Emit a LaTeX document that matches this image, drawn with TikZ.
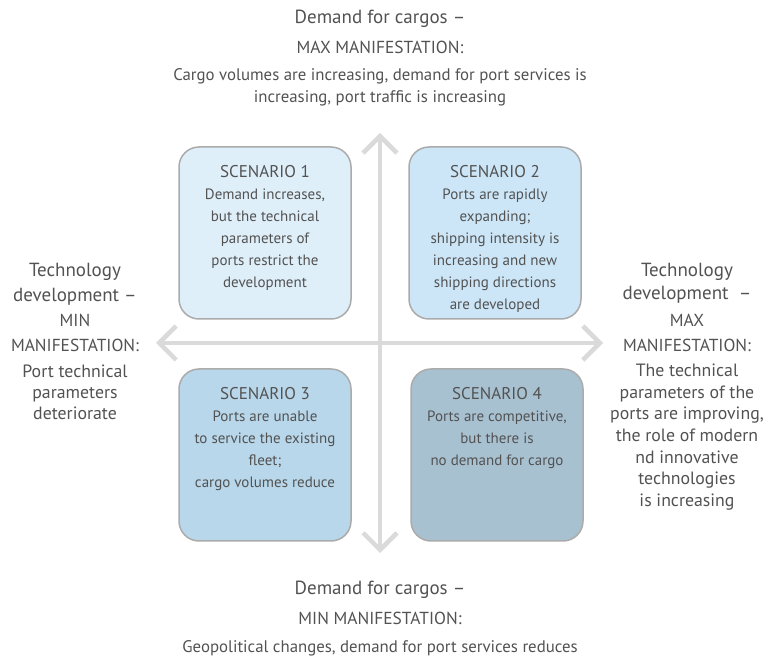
\documentclass[tikz,border=0pt]{standalone}
\usepackage{fontspec}
\setmainfont{PT Sans}
\usetikzlibrary{arrows.meta}
\definecolor{txt}{HTML}{525252}
\definecolor{axis}{HTML}{DADADA}
\definecolor{bord}{HTML}{ABABAB}
\definecolor{fa}{HTML}{DFEFF9}
\definecolor{fb}{HTML}{CCE6F7}
\definecolor{fc}{HTML}{B9D7EA}
\definecolor{fd}{HTML}{A8C1D1}
\newcommand\myhd[1]{{\fontsize{19}{22}\selectfont #1}}
\newcommand\mycp[1]{{\fontsize{17.4}{22}\selectfont #1}}
\newcommand\mysc[1]{{\fontsize{17}{22}\selectfont #1}}
\begin{document}
\begin{tikzpicture}[x=1pt,y=-1pt,
  every node/.style={text=txt,inner sep=0pt},
  box/.style={draw=bord,line width=1.5pt,rounded corners=20pt,minimum width=172pt,minimum height=172pt},
  boxtext/.style={anchor=north,align=center,font=\fontsize{15}{22}\selectfont},
  side/.style={align=center,anchor=north,font=\fontsize{17.5}{22}\selectfont},
  axisline/.style={draw=axis,line width=4.5pt,{Straight Barb[length=17pt,width=34pt]}-{Straight Barb[length=17pt,width=34pt]}}]
\useasboundingbox (0,0) rectangle (764,660);
% axes
\coordinate (vt) at (380,133);
\coordinate (vb) at (380,553);
\coordinate (hl) at (156,343);
\coordinate (hr) at (603,343);
\draw[axisline] (vb) -- (vt);
\draw[axisline] (hl) -- (hr);
% boxes
\node[box,fill=fa] (b1) at (265,233) {};
\node[box,fill=fb] (b2) at (495,233) {};
\node[box,fill=fc] (b3) at (265,455) {};
\node[box,fill=fd] (b4) at (497,455) {};
\node[boxtext] (t1) at ([yshift=-19pt]b1.north) {\mysc{SCENARIO 1}\\Demand increases,\\but the technical\\parameters of\\ports restrict the\\development};
\node[boxtext] (t2) at ([yshift=-19pt]b2.north) {\mysc{SCENARIO 2}\\Ports are rapidly\\expanding;\\shipping intensity is\\increasing and new\\shipping directions\\are developed};
\node[boxtext] (t3) at ([yshift=-19pt]b3.north) {\mysc{SCENARIO 3}\\Ports are unable\\to service the existing\\fleet;\\cargo volumes reduce};
\node[boxtext] (t4) at ([yshift=-19pt]b4.north) {\mysc{SCENARIO 4}\\Ports are competitive,\\but there is\\no demand for cargo};
% outer labels
\node[side,font=\fontsize{16.8}{22}\selectfont] (top) at (380,9.5) {\myhd{Demand for cargos –}\\[8pt]\mycp{MAX MANIFESTATION:}\\[5pt]Cargo volumes are increasing, demand for port services is\\increasing, port traffic is increasing};
\node[side,font=\fontsize{16.8}{22}\selectfont] (bot) at (380,580.5) {\myhd{Demand for cargos –}\\[8pt]\mycp{MIN MANIFESTATION:}\\[6pt]Geopolitical changes, demand for port services reduces};
\node[side,font=\fontsize{17.8}{21}\selectfont] (left) at (75,263) {\myhd{Technology}\\[4pt]\myhd{development –}\\[4pt]\mycp{MIN}\\[4pt]\mycp{MANIFESTATION:}\\[5pt]Port technical\\parameters\\deteriorate};
\node[side,font=\fontsize{17.8}{21.7}\selectfont] (right) at (687,263) {\myhd{Technology}\\[1.3pt]\myhd{development~~–}\\[5.3pt]\mycp{MAX}\\[3.3pt]\mycp{MANIFESTATION:}\\[3.3pt]The technical\\parameters of the\\ports are improving,\\the role of modern\\nd innovative\\technologies\\is increasing};
\end{tikzpicture}
\end{document}
